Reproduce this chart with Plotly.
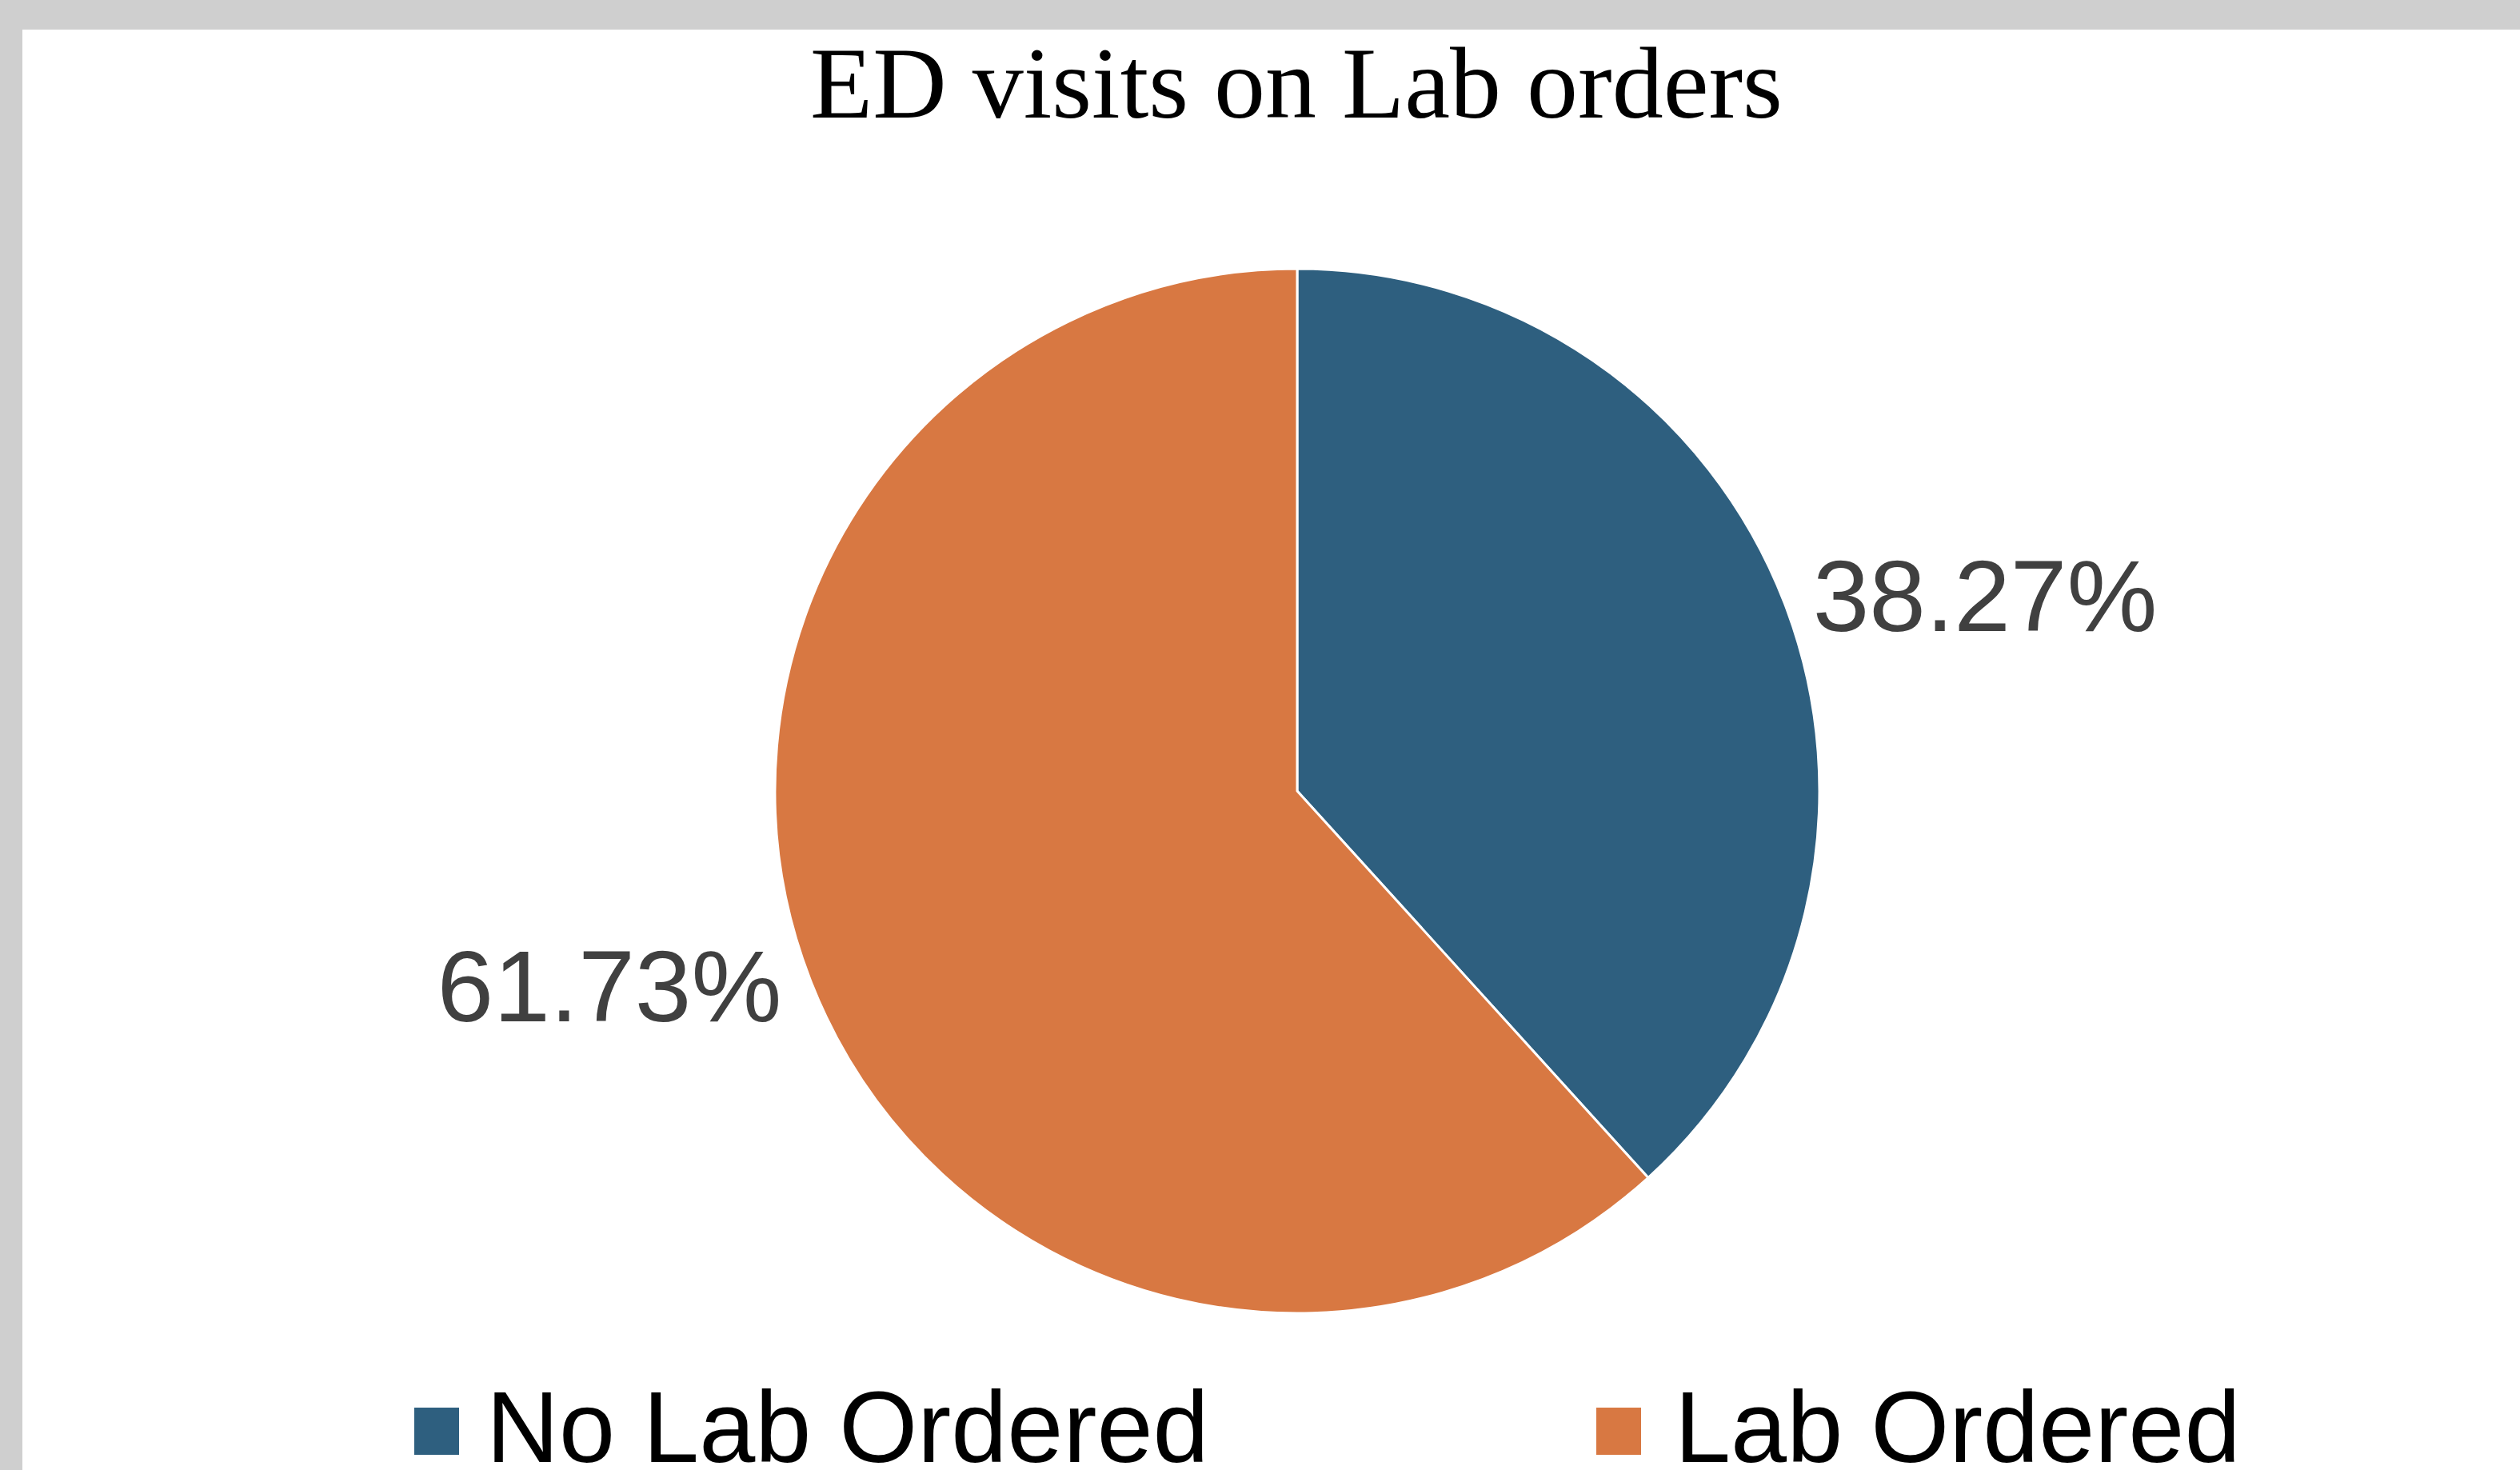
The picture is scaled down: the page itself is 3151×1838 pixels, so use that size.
import plotly.graph_objects as go

W, H = 3151, 1838

title_text = "ED visits on Lab orders"
categories = ["No Lab Ordered", "Lab Ordered"]
values = [38.27, 61.73]
colors = ["#2E5F7F", "#D87842"]

# pie geometry (pixels)
cx, cy, r = 1622, 989, 653

fig = go.Figure()
fig.add_trace(go.Pie(
    labels=categories,
    values=values,
    sort=False,
    direction="clockwise",
    rotation=0,
    marker=dict(colors=colors, line=dict(color="white", width=3)),
    texttemplate="%{percent:.2%}",
    textposition="outside",
    textfont=dict(family="Liberation Sans, Arial", size=127, color="#404040"),
    showlegend=False,
    domain=dict(x=[(cx - r) / W, (cx + r) / W], y=[(H - cy - r) / H, (H - cy + r) / H]),
    hoverinfo="label+percent",
))

shapes = [
    dict(type="rect", xref="paper", yref="paper", x0=28 / W, x1=1, y0=0, y1=1 - 37 / H,
         fillcolor="white", line=dict(width=0), layer="below"),
]
annotations = []

# custom legend
leg_marker_x = [518, 1996]
leg_text_x = [606, 2092]
for name, col, mx, tx in zip(categories, colors, leg_marker_x, leg_text_x):
    shapes.append(dict(type="rect", xref="paper", yref="paper",
                       x0=mx / W, x1=(mx + 56) / W, y0=1 - 1819 / H, y1=1 - 1760 / H,
                       fillcolor=col, line=dict(width=0)))
    annotations.append(dict(text=name, xref="paper", yref="paper", x=tx / W, y=1 - 1829 / H,
                            xanchor="left", yanchor="bottom", showarrow=False,
                            font=dict(family="Liberation Sans, Arial", size=126, color="black"),
                            yshift=-28))

fig.update_layout(
    width=W, height=H,
    margin=dict(l=0, r=0, t=0, b=0),
    paper_bgcolor="#cfcfcf",
    plot_bgcolor="white",
    title=dict(text=title_text, x=1621 / W, xanchor="center", xref="container",
               y=1 - 147 / H, yanchor="bottom", yref="container",
               font=dict(family="Liberation Serif, Times New Roman", size=128, color="black"),
               pad=dict(t=0, b=0)),
    shapes=shapes,
    annotations=annotations,
)

fig.write_html("out.html")
